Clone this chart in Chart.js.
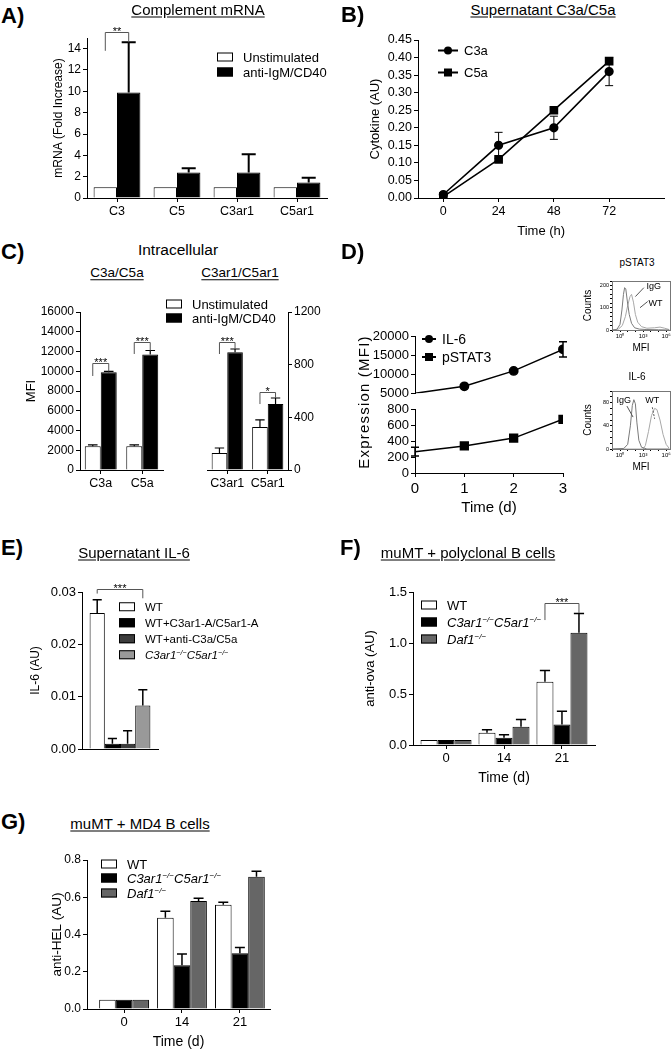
<!DOCTYPE html>
<html>
<head>
<meta charset="utf-8">
<title>Complement figure</title>
<script src="https://cdn.jsdelivr.net/npm/chart.js@4.4.1/dist/chart.umd.min.js"></script>
<style>
html, body { margin: 0; padding: 0; background: #fff; }
body { position: relative; width: 672px; height: 1050px; overflow: hidden; font-family: 'Liberation Sans', Arial, Helvetica, sans-serif; color: #000; }
canvas { position: absolute; }
.t { position: absolute; white-space: nowrap; line-height: 1; }
.let { font-weight: bold; font-size: 22px; }
.ttl { font-size: 15px; text-decoration: underline; text-underline-offset: 2px; }
.lg { font-size: 13px; }
.box { display: inline-block; width: 16px; height: 9px; border: 1px solid #000; box-sizing: border-box; vertical-align: middle; margin-right: 10px; position: relative; top: -1px; }
sup { font-size: 0.62em; line-height: 0; vertical-align: 0.6em; }
.sym { display: inline-block; width: 20px; height: 2px; background: #000; position: relative; vertical-align: middle; margin-right: 6px; top: -1px; }
.sym i { position: absolute; left: 6px; top: -3px; width: 8px; height: 8px; background: #000; }
.sym i.c { border-radius: 50%; }
</style>
</head>
<body>
<canvas id="cA"></canvas>
<canvas id="cB"></canvas>
<canvas id="cC1"></canvas>
<canvas id="cC2"></canvas>
<canvas id="cD1"></canvas>
<canvas id="cD2"></canvas>
<canvas id="cH1"></canvas>
<canvas id="cH2"></canvas>
<canvas id="cE"></canvas>
<canvas id="cF"></canvas>
<canvas id="cG"></canvas>
<script>
// ---- data ----
// A) complement mRNA, fold increase
var aCats = ['C3', 'C5', 'C3ar1', 'C5ar1'];
var aUnstim = [1, 1, 1, 1];
var aStim = [9.9, 2.4, 2.4, 1.45];
var aStimErr = [4.7, 0.4, 1.7, 0.45];
var aTicks = [0, 2, 4, 6, 8, 10, 12, 14];

// B) supernatant C3a / C5a
var bHours = [0, 24, 48, 72];
var bC3a = [0.01, 0.15, 0.20, 0.36];
var bC3aErr = [0.004, 0.037, 0.033, 0.04];
var bC5a = [0.004, 0.11, 0.25, 0.39];

// C) intracellular MFI
var cLigCats = ['C3a', 'C5a'];
var cLigUnstim = [2400, 2400];
var cLigUnstimErr = [150, 150];
var cLigStim = [9900, 11700];
var cLigStimErr = [80, 400];
var cRecCats = ['C3ar1', 'C5ar1'];
var cRecUnstim = [130, 327];
var cRecUnstimErr = [37, 53];
var cRecStim = [895, 501];
var cRecStimErr = [24, 46];

// D) expression over time
var dDays = [0, 1, 2, 3];
var dIL6 = [5000, 6800, 10850, 16500];
var dIL6Err = [0, 0, 0, 2000];
var dPSTAT3 = [270, 343, 442, 680];
var dPSTAT3Err = [55, 0, 0, 0];

// D) histogram insets, x in decades of MFI
var hPstatIgG = [[-1,0],[-0.4,3],[0,25],[0.25,90],[0.45,160],[0.6,190],[0.75,185],[0.95,130],[1.2,70],[1.5,30],[1.9,10],[2.5,4],[3.5,2],[5,1],[6.4,0]];
var hPstatWT = [[-1,0],[-0.2,4],[0.3,20],[0.7,60],[1.0,110],[1.3,150],[1.5,160],[1.75,125],[2.0,70],[2.3,35],[2.8,15],[3.5,8],[4.5,10],[5.2,13],[5.8,8],[6.4,2]];
var hIL6IgG = [[-1,0],[0.5,1],[1.0,8],[1.35,40],[1.6,75],[1.8,85],[2.0,78],[2.2,45],[2.45,15],[2.8,3],[3.5,0],[6.4,0]];
var hIL6WT = [[-1,0],[3.0,0],[3.3,6],[3.7,30],[4.1,58],[4.5,70],[4.8,68],[5.2,50],[5.6,25],[6.0,8],[6.4,1]];
var hTicks = {0: '10\u2070', 3: '10\u00b3', 6: '10\u2076'};

// E) supernatant IL-6
var eGroups = ['WT', 'WT+C3ar1-A/C5ar1-A', 'WT+anti-C3a/C5a', 'C3ar1\u2212/\u2212C5ar1\u2212/\u2212'];
var eIL6 = [0.026, 0.001, 0.001, 0.0083];
var eIL6Err = [0.0025, 0.001, 0.0025, 0.003];

// F) muMT + polyclonal B cells, anti-ova
var fDays = ['0', '14', '21'];
var fWT = [0.05, 0.12, 0.62];
var fWTErr = [0, 0.03, 0.11];
var fKO = [0.05, 0.07, 0.20];
var fKOErr = [0, 0.03, 0.13];
var fDaf = [0.05, 0.18, 1.10];
var fDafErr = [0, 0.07, 0.19];

// G) muMT + MD4 B cells, anti-HEL
var gDays = ['0', '14', '21'];
var gWT = [0.05, 0.49, 0.56];
var gWTErr = [0, 0.035, 0.013];
var gKO = [0.05, 0.235, 0.30];
var gKOErr = [0, 0.06, 0.03];
var gDaf = [0.05, 0.58, 0.71];
var gDafErr = [0, 0.015, 0.03];

// ---- text ----
function label(html, x, y, cls, align, rot) {
  var d = document.createElement('div');
  d.className = 't ' + (cls || '');
  d.innerHTML = html;
  d.style.left = x + 'px';
  d.style.top = y + 'px';
  d.style.transform = 'translate(' + (align === 'left' ? '0' : '-50%') + ',-50%)' + (rot ? ' rotate(-90deg)' : '');
  document.body.appendChild(d);
  return d;
}
var WHITE = '<span class="box" style="background:#fff"></span>';
var BLACK = '<span class="box" style="background:#000"></span>';
var DARK = '<span class="box" style="background:#3c3c3c"></span>';
var GREY = '<span class="box" style="background:#666"></span>';
var LIGHT = '<span class="box" style="background:#999"></span>';
var KO = '<i>C3ar1<sup>\u2212/\u2212</sup>C5ar1<sup>\u2212/\u2212</sup></i>';
var DAF = '<i>Daf1<sup>\u2212/\u2212</sup></i>';

label('A)', 1, 16, 'let', 'left');
label('Complement mRNA', 198, 9, 'ttl');
label(WHITE + 'Unstimulated', 217, 57, 'lg', 'left');
label(BLACK + 'anti-IgM/CD40', 217, 72, 'lg', 'left');

label('B)', 341, 15, 'let', 'left');
label('Supernatant C3a/C5a', 543, 9, 'ttl');
label('<span class="sym"><i class="c"></i></span>C3a', 438, 50, 'lg', 'left');
label('<span class="sym"><i></i></span>C5a', 438, 72, 'lg', 'left');

label('C)', 1, 252, 'let', 'left');
label('Intracellular', 178, 250, '').style.fontSize = '15.5px';
label('C3a/C5a', 117, 273, 'ttl').style.fontSize = '13.5px';
label('C3ar1/C5ar1', 240, 273, 'ttl').style.fontSize = '13.5px';
label(WHITE + 'Unstimulated', 166, 304, 'lg', 'left');
label(BLACK + 'anti-IgM/CD40', 166, 318, 'lg', 'left');

label('D)', 341, 252, 'let', 'left');
var dy = label('Expression (MFI)', 363, 402, '', 'center', true);
dy.style.fontSize = '15px'; dy.style.letterSpacing = '1.2px';
label('<span class="sym" style="width:14px"><i class="c" style="left:3px"></i></span>IL-6', 422, 339, 'lg', 'left').style.fontSize = '14px';
label('<span class="sym" style="width:14px"><i style="left:3px"></i></span>pSTAT3', 422, 357, 'lg', 'left').style.fontSize = '14px';
label('pSTAT3', 637, 263, '').style.fontSize = '10px';
label('IL-6', 637, 377, '').style.fontSize = '10px';

label('E)', 1, 548, 'let', 'left');
label('Supernatant IL-6', 134, 552, 'ttl');
[WHITE, BLACK, DARK, LIGHT].forEach(function (b, i) {
  var name = i === 3 ? KO : eGroups[i];
  label(b + name, 119, [608, 624, 640, 656][i], 'lg', 'left').style.fontSize = '11.5px';
});

label('F)', 340, 548, 'let', 'left');
label('muMT + polyclonal B cells', 468, 552, 'ttl');
label(WHITE + 'WT', 421, 605, 'lg', 'left');
label(BLACK + KO, 421, 622, 'lg', 'left');
label(GREY + DAF, 421, 639, 'lg', 'left');

label('G)', 1, 822, 'let', 'left');
label('muMT + MD4 B cells', 140, 823, 'ttl');
label(WHITE + 'WT', 101, 864, 'lg', 'left');
label(BLACK + KO, 101, 878, 'lg', 'left');
label(GREY + DAF, 101, 893, 'lg', 'left');

// ---- plugins ----
var errorBars = {
  id: 'errorBars',
  afterDatasetsDraw: function (chart, args, opts) {
    var ctx = chart.ctx, ys = chart.scales.y;
    ctx.save();
    ctx.strokeStyle = '#000';
    ctx.lineWidth = opts.width || 1.5;
    chart.data.datasets.forEach(function (ds, i) {
      if (!ds.err) return;
      chart.getDatasetMeta(i).data.forEach(function (el, j) {
        var e = ds.err[j];
        if (!e) return;
        var v = ds.data[j];
        if (typeof v === 'object') v = v.y;
        var cap = opts.cap || el.width * 0.3;
        var yTop = ys.getPixelForValue(v + e);
        var yBot = ds.errBoth ? ys.getPixelForValue(v - e) : el.y;
        ctx.beginPath();
        ctx.moveTo(el.x, yBot);
        ctx.lineTo(el.x, yTop);
        ctx.moveTo(el.x - cap, yTop);
        ctx.lineTo(el.x + cap, yTop);
        if (ds.errBoth) {
          ctx.moveTo(el.x - cap, yBot);
          ctx.lineTo(el.x + cap, yBot);
        }
        ctx.stroke();
      });
    });
    ctx.restore();
  }
};

var brackets = {
  id: 'brackets',
  afterDraw: function (chart, args, opts) {
    if (!opts.list) return;
    var ctx = chart.ctx, ys = chart.scales[opts.axis || 'y'];
    ctx.save();
    opts.list.forEach(function (b) {
      var xa = chart.getDatasetMeta(b.a[0]).data[b.a[1]].x;
      var xb = chart.getDatasetMeta(b.b[0]).data[b.b[1]].x;
      var yt = Math.round(ys.getPixelForValue(b.top)) + 0.5;
      ctx.strokeStyle = '#555';
      ctx.lineWidth = 1;
      ctx.beginPath();
      ctx.moveTo(xa, ys.getPixelForValue(b.ya));
      ctx.lineTo(xa, yt);
      ctx.lineTo(xb, yt);
      ctx.lineTo(xb, ys.getPixelForValue(b.yb));
      ctx.stroke();
      ctx.fillStyle = '#000';
      ctx.font = '11px "Liberation Sans", Arial, sans-serif';
      ctx.textAlign = 'center';
      ctx.textBaseline = 'alphabetic';
      ctx.fillText(b.text, (xa + xb) / 2, yt + 2);
    });
    ctx.restore();
  }
};

var frameBox = {
  id: 'frameBox',
  afterDraw: function (chart, args, opts) {
    var a = chart.chartArea, ctx = chart.ctx;
    ctx.save();
    ctx.strokeStyle = '#777';
    ctx.lineWidth = 1;
    ctx.strokeRect(Math.round(a.left) + 0.5, Math.round(a.top) + 0.5, a.right - a.left, a.bottom - a.top);
    ctx.fillStyle = '#000';
    ctx.strokeStyle = '#555';
    ctx.font = '9px "Liberation Sans", Arial, sans-serif';
    ctx.textAlign = 'center';
    ctx.textBaseline = 'middle';
    var xs = chart.scales.x, ys = chart.scales.y;
    (opts.notes || []).forEach(function (n) {
      ctx.setLineDash(n.dash ? [2, 1.5] : []);
      ctx.beginPath();
      ctx.moveTo(xs.getPixelForValue(n.line[0]), ys.getPixelForValue(n.line[1]));
      ctx.lineTo(xs.getPixelForValue(n.line[2]), ys.getPixelForValue(n.line[3]));
      ctx.stroke();
      ctx.fillText(n.text, xs.getPixelForValue(n.x), ys.getPixelForValue(n.y));
    });
    ctx.restore();
  }
};

// ---- helpers ----
Chart.defaults.font.family = "'Liberation Sans', Arial, sans-serif";
Chart.defaults.color = '#000';
Chart.defaults.animation = false;
Chart.defaults.plugins.legend.display = false;
Chart.defaults.plugins.tooltip.enabled = false;

function frame(id, area, l, r, t, b) {
  var c = document.getElementById(id);
  c.width = l + area[2] - area[0] + r;
  c.height = t + area[3] - area[1] + b;
  c.style.left = (area[0] - l) + 'px';
  c.style.top = (area[1] - t) + 'px';
  return c;
}

function yAxis(o) {
  return {
    position: o.pos || 'left',
    min: o.min, max: o.max,
    afterFit: function (s) { s.width = o.w; },
    afterBuildTicks: o.vals ? function (s) { s.ticks = o.vals.map(function (v) { return { value: v }; }); } : undefined,
    grid: { drawOnChartArea: false, drawTicks: true, tickLength: o.tl || 4, color: '#000', lineWidth: 1 },
    border: { display: true, color: o.bc || '#000', width: 1 },
    ticks: { stepSize: o.step, font: { size: o.size, family: o.family }, padding: o.pad || 2, color: '#000', callback: o.fmt, autoSkip: false },
    title: o.title ? { display: true, text: o.title, font: { size: o.tsize }, padding: { top: 4, bottom: 4 }, color: '#000' } : { display: false }
  };
}

function xCat(size, h, showTicks) {
  return {
    afterFit: function (s) { s.height = h; },
    grid: { offset: false, drawOnChartArea: false, drawTicks: showTicks, tickLength: 4, color: '#000' },
    border: { display: true, color: '#000', width: 1 },
    ticks: { display: showTicks, font: { size: size }, padding: 2, color: '#000', maxRotation: 0, autoSkip: false }
  };
}

function xLin(o) {
  return {
    type: 'linear', min: o.min, max: o.max, offset: false, display: o.display !== false,
    afterFit: function (s) { s.height = o.h; },
    afterBuildTicks: function (s) { s.ticks = o.ticks.map(function (v) { return { value: v }; }); },
    grid: { offset: false, drawOnChartArea: false, drawTicks: true, tickLength: o.tl || 4, color: '#000' },
    border: { display: true, color: o.bc || '#000', width: 1 },
    ticks: { font: { size: o.size, family: o.family }, padding: o.pad || 2, color: '#000', callback: o.fmt, maxRotation: 0, autoSkip: false },
    title: o.title ? { display: true, text: o.title, font: { size: o.tsize, family: o.family }, padding: { top: 4, bottom: 4 }, color: '#000' } : { display: false }
  };
}

function plain(v) { return String(v); }
function pairs(xs, ys) { return ys.map(function (v, i) { return { x: xs[i], y: v }; }); }
function bar(lbl, data, err, fill) {
  return { label: lbl, data: data, err: err, backgroundColor: fill, borderColor: '#000', borderWidth: 1 };
}

// ---- A ----
new Chart(frame('cA', [87, 38, 327, 198], 40, 8, 30, 22), {
  type: 'bar',
  data: { labels: aCats, datasets: [bar('Unstimulated', aUnstim, null, '#fff'), bar('anti-IgM/CD40', aStim, aStimErr, '#000')] },
  options: {
    responsive: false,
    layout: { padding: { top: 30, right: 8, left: 0, bottom: 0 } },
    datasets: { bar: { categoryPercentage: 0.78, barPercentage: 1 } },
    scales: {
      x: xCat(12.5, 22, true),
      y: yAxis({ min: 0, max: 15, vals: aTicks, size: 12, w: 40, title: 'mRNA (Fold Increase)', tsize: 12, fmt: plain })
    },
    plugins: {
      errorBars: { width: 2 },
      brackets: { list: [{ a: [0, 0], b: [1, 0], top: 15.6, ya: 13.8, yb: 14.6, text: '**' }] }
    }
  },
  plugins: [errorBars, brackets]
});

// ---- B ----
new Chart(frame('cB', [418, 40, 667, 198], 54, 4, 12, 45), {
  type: 'line',
  data: {
    datasets: [
      { label: 'C3a', data: pairs(bHours, bC3a), err: bC3aErr, errBoth: true, borderColor: '#000', backgroundColor: '#000', borderWidth: 1.6, pointStyle: 'circle', pointRadius: 3.8 },
      { label: 'C5a', data: pairs(bHours, bC5a), borderColor: '#000', backgroundColor: '#000', borderWidth: 1.6, pointStyle: 'rect', pointRadius: 5 }
    ]
  },
  options: {
    responsive: false,
    layout: { padding: { top: 12, right: 4, left: 0, bottom: 0 } },
    scales: {
      x: xLin({ min: -11, max: 96, ticks: bHours, size: 12.5, h: 45, title: 'Time (h)', tsize: 13, fmt: plain }),
      y: yAxis({ min: 0, max: 0.45, step: 0.05, size: 12.5, w: 54, title: 'Cytokine (AU)', tsize: 13, fmt: function (v) { return v.toFixed(2); } })
    },
    plugins: { errorBars: { width: 1, cap: 4 } }
  },
  plugins: [errorBars]
});

// ---- C left (ligands) ----
new Chart(frame('cC1', [80, 312, 163, 470], 60, 2, 12, 22), {
  type: 'bar',
  data: { labels: cLigCats, datasets: [bar('Unstimulated', cLigUnstim, cLigUnstimErr, '#fff'), bar('anti-IgM/CD40', cLigStim, cLigStimErr, '#000')] },
  options: {
    responsive: false,
    layout: { padding: { top: 12, right: 2, left: 0, bottom: 0 } },
    datasets: { bar: { categoryPercentage: 0.77, barPercentage: 1 } },
    scales: {
      x: xCat(12.5, 22, true),
      y: yAxis({ min: 0, max: 16000, step: 2000, size: 12, w: 60, title: 'MFI', tsize: 13, fmt: plain })
    },
    plugins: {
      errorBars: { width: 1.2 },
      brackets: { list: [
        { a: [0, 0], b: [1, 0], top: 10835, ya: 9520, yb: 9980, text: '***' },
        { a: [0, 1], b: [1, 1], top: 13000, ya: 11750, yb: 12100, text: '***' }
      ] }
    }
  },
  plugins: [errorBars, brackets]
});

// ---- C right (receptors) ----
new Chart(frame('cC2', [207, 312, 288, 470], 3, 40, 12, 22), {
  type: 'bar',
  data: { labels: cRecCats, datasets: [bar('Unstimulated', cRecUnstim, cRecUnstimErr, '#fff'), bar('anti-IgM/CD40', cRecStim, cRecStimErr, '#000')] },
  options: {
    responsive: false,
    layout: { padding: { top: 12, right: 0, left: 3, bottom: 0 } },
    datasets: { bar: { categoryPercentage: 0.77, barPercentage: 1 } },
    scales: {
      x: xCat(12.5, 22, true),
      y: yAxis({ pos: 'right', min: 0, max: 1200, step: 400, size: 12, w: 40, fmt: plain })
    },
    plugins: {
      errorBars: { width: 1.2 },
      brackets: { list: [
        { a: [0, 0], b: [1, 0], top: 974, ya: 881, yb: 919, text: '***' },
        { a: [0, 1], b: [1, 1], top: 595, ya: 501, yb: 547, text: '*' }
      ] }
    }
  },
  plugins: [errorBars, brackets]
});

// ---- D upper segment (IL-6) ----
new Chart(frame('cD1', [415, 336, 563, 395], 45, 10, 10, 8), {
  type: 'line',
  data: { datasets: [{ label: 'IL-6', data: pairs(dDays, dIL6), err: dIL6Err, errBoth: true, borderColor: '#000', backgroundColor: '#000', borderWidth: 1.5, pointStyle: 'circle', pointRadius: [0, 4.2, 4.2, 4.2] }] },
  options: {
    responsive: false,
    layout: { padding: { top: 10, right: 10, left: 0, bottom: 8 } },
    scales: {
      x: xLin({ min: 0, max: 3, ticks: dDays, display: false, h: 0 }),
      y: yAxis({ min: 5000, max: 20000, step: 5000, size: 13, w: 45, fmt: plain })
    },
    plugins: { errorBars: { width: 1.5, cap: 4 } }
  },
  plugins: [errorBars]
});

// ---- D lower segment (pSTAT3) ----
new Chart(frame('cD2', [415, 408, 563, 473], 45, 10, 8, 48), {
  type: 'line',
  data: { datasets: [{ label: 'pSTAT3', data: pairs(dDays, dPSTAT3), err: dPSTAT3Err, errBoth: true, borderColor: '#000', backgroundColor: '#000', borderWidth: 1.5, pointStyle: 'rect', pointRadius: [0, 5.5, 5.5, 5.5] }] },
  options: {
    responsive: false,
    layout: { padding: { top: 8, right: 10, left: 0, bottom: 0 } },
    scales: {
      x: xLin({ min: 0, max: 3, ticks: dDays, size: 15, h: 48, title: 'Time (d)', tsize: 15, fmt: plain, pad: 3 }),
      y: yAxis({ min: 0, max: 800, step: 200, size: 13, w: 45, fmt: plain })
    },
    plugins: { errorBars: { width: 1.5, cap: 4 } }
  },
  plugins: [errorBars]
});

// ---- D histogram insets ----
function histChart(id, area, ymax, ystep, major, igg, wt, notes) {
  return new Chart(frame(id, area, 34, 10, 6, 28), {
    type: 'line',
    data: { datasets: [
      { label: 'IgG', data: igg.map(function (p) { return { x: p[0], y: p[1] }; }), borderColor: '#7a7a7a', borderWidth: 1, pointRadius: 0 },
      { label: 'WT', data: wt.map(function (p) { return { x: p[0], y: p[1] }; }), borderColor: '#a8a8a8', borderWidth: 1, pointRadius: 0 }
    ] },
    options: {
      responsive: false,
      layout: { padding: { top: 6, right: 10, left: 0, bottom: 0 } },
      scales: {
        x: xLin({ min: -1.04, max: 6.5, ticks: [-1, 0, 1, 2, 3, 4, 5, 6], size: 6, h: 28, tl: 2, pad: 1, title: 'MFI', tsize: 10, bc: '#555', fmt: function (v) { return hTicks[v] || ''; } }),
        y: yAxis({ min: 0, max: ymax, step: ystep, size: 5.5, w: 34, tl: 2, pad: 1, title: 'Counts', tsize: 10, bc: '#555', fmt: function (v) { return v % major === 0 ? String(v) : ''; } })
      },
      plugins: { frameBox: { notes: notes } }
    },
    plugins: [frameBox]
  });
}
histChart('cH1', [612, 281, 670, 330], 220, 20, 100, hPstatIgG, hPstatWT, [
  { text: 'IgG', x: 4.4, y: 193, line: [3.1, 190, 2.0, 150] },
  { text: 'WT', x: 4.6, y: 121, line: [3.6, 128, 2.6, 100] }
]);
histChart('cH2', [612, 391, 670, 449], 100, 10, 40, hIL6IgG, hIL6WT, [
  { text: 'IgG', x: 0.5, y: 84, line: [0.9, 74, 1.7, 55] },
  { text: 'WT', x: 4.2, y: 84, line: [4.2, 72, 4.5, 52], dash: true }
]);

// ---- E ----
var eFills = ['#fff', '#000', '#3c3c3c', '#999'];
new Chart(frame('cE', [82, 592, 158, 749], 58, 5, 40, 10), {
  type: 'bar',
  data: { labels: [''], datasets: eIL6.map(function (v, i) { return bar(eGroups[i], [v], [eIL6Err[i]], eFills[i]); }) },
  options: {
    responsive: false,
    layout: { padding: { top: 40, right: 5, left: 0, bottom: 0 } },
    datasets: { bar: { categoryPercentage: 0.8, barPercentage: 1 } },
    scales: {
      x: xCat(12, 10, false),
      y: yAxis({ min: 0, max: 0.03, step: 0.01, size: 13, w: 58, title: 'IL-6 (AU)', tsize: 12, fmt: function (v) { return v.toFixed(2); } })
    },
    plugins: {
      errorBars: { width: 1.5 },
      brackets: { list: [{ a: [0, 0], b: [3, 0], top: 0.0305, ya: 0.0297, yb: 0.0288, text: '***' }] }
    }
  },
  plugins: [errorBars, brackets]
});

// ---- F and G ----
function idxBars(id, area, l, labels, sets, yo, xmin, xmax, cat, brk) {
  return new Chart(frame(id, area, l, 8, 12, 46), {
    type: 'bar',
    data: { datasets: sets.map(function (s) {
      return bar(s[0], s[1].map(function (v, i) { return { x: i, y: v }; }), s[2], s[3]);
    }) },
    options: {
      responsive: false,
      layout: { padding: { top: 12, right: 8, left: 0, bottom: 0 } },
      datasets: { bar: { categoryPercentage: cat, barPercentage: 1 } },
      scales: {
        x: xLin({ min: xmin, max: xmax, ticks: [0, 1, 2], size: 13, h: 46, title: 'Time (d)', tsize: 14, fmt: function (v) { return labels[v]; } }),
        y: yAxis(yo)
      },
      plugins: { errorBars: { width: 1.5 }, brackets: { list: brk } }
    },
    plugins: [errorBars, brackets]
  });
}
idxBars('cF', [413, 592, 595, 745], 54, fDays, [
  ['WT', fWT, fWTErr, '#fff'],
  ['C3ar1-/-C5ar1-/-', fKO, fKOErr, '#000'],
  ['Daf1-/-', fDaf, fDafErr, '#666']
], { min: 0, max: 1.5, step: 0.5, size: 13, w: 54, title: 'anti-ova (AU)', tsize: 13, fmt: function (v) { return v.toFixed(1); } },
  -0.57, 2.57, 0.88,
  [{ a: [0, 2], b: [2, 2], top: 1.39, ya: 1.225, yb: 1.294, text: '***' }]);

idxBars('cG', [87, 860, 270, 1009], 42, gDays, [
  ['WT', gWT, gWTErr, '#fff'],
  ['C3ar1-/-C5ar1-/-', gKO, gKOErr, '#000'],
  ['Daf1-/-', gDaf, gDafErr, '#666']
], { min: 0, max: 0.8, step: 0.2, size: 12, w: 42, title: 'anti-HEL (AU)', tsize: 13.5, fmt: function (v) { return v.toFixed(1); } },
  -0.64, 2.52, 0.86, []);
</script>
</body>
</html>
